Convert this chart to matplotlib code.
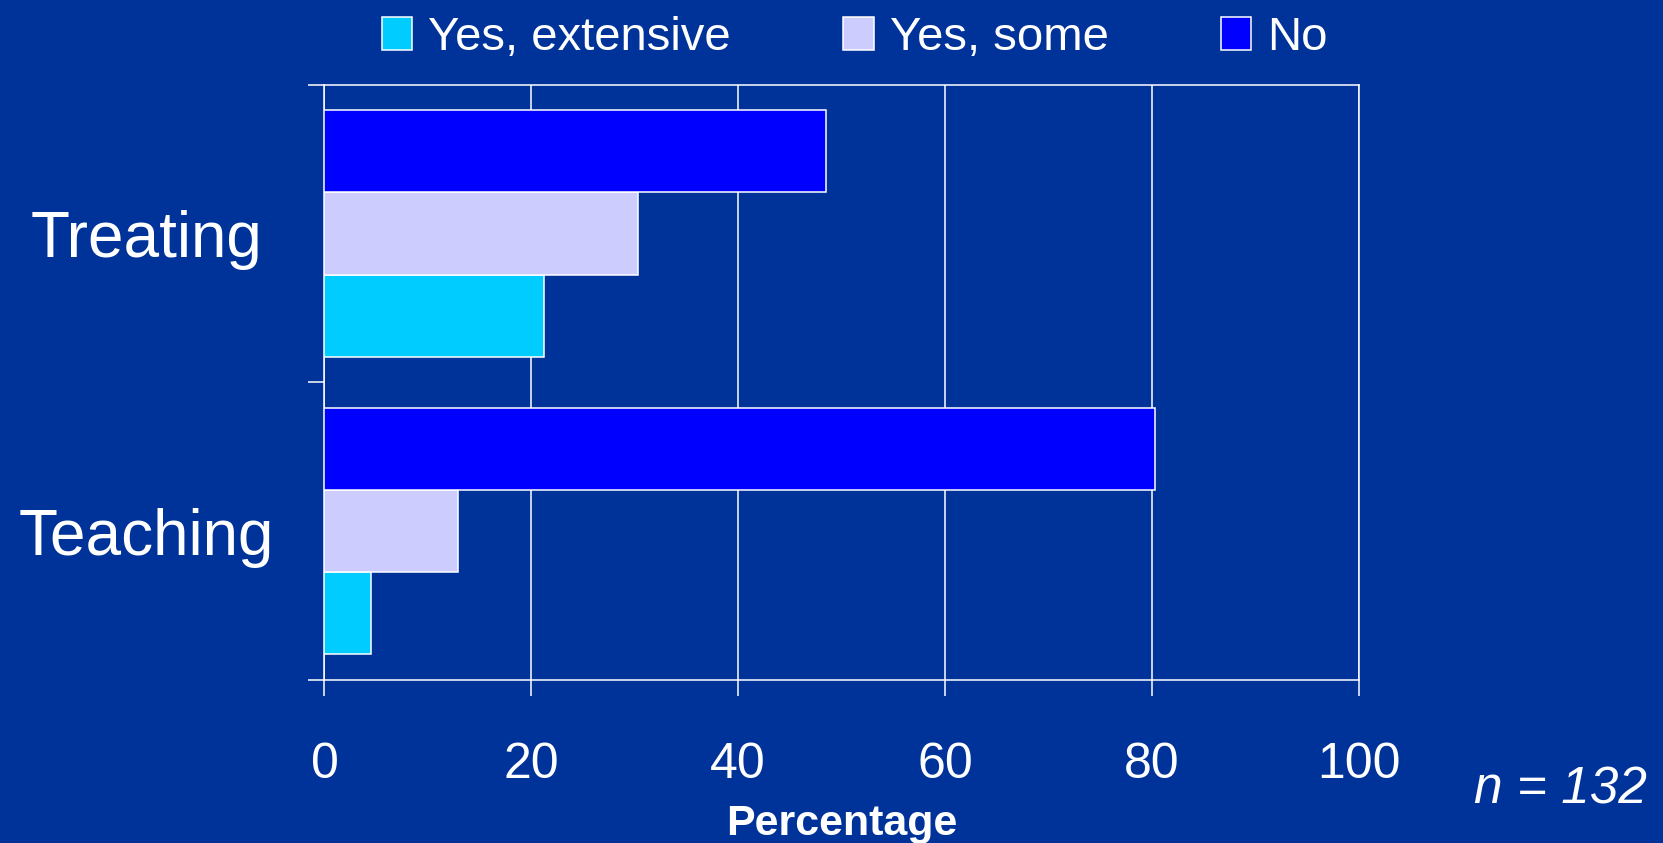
import numpy as np
import matplotlib
matplotlib.use('Agg')
import matplotlib.pyplot as plt
from matplotlib.patches import Patch

# data (percent of n = 132)
categories = ['Treating', 'Teaching']
series_names = ['Yes, extensive', 'Yes, some', 'No']
yes_extensive = [21.2, 4.5]
yes_some = [30.3, 12.9]
no_answer = [48.5, 80.3]
x_ticks = [0, 20, 40, 60, 80, 100]

bg = '#003399'
colors = ['#00CCFF', '#CCCCFF', '#0000FF']

plt.rcParams['font.family'] = ['Liberation Sans', 'DejaVu Sans']

fig = plt.figure(figsize=(16.63, 8.43), dpi=100, facecolor=bg)
ax = fig.add_axes([0.1951, 0.1936, 0.817 - 0.1951, 0.8994 - 0.1936])
ax.set_facecolor(bg)

y = np.arange(len(categories))
h = 0.276
series = [yes_extensive, yes_some, no_answer]
offsets = [h, 0, -h]
for vals, off, c in zip(series, offsets, colors):
    ax.barh(y + off, vals, height=h, color=c, edgecolor='white', linewidth=1.1, zorder=3)

ax.set_xlim(0, 100)
ax.set_ylim(-0.5, 1.5)
ax.invert_yaxis()

# x axis
ax.set_xticks(x_ticks)
ax.set_xticklabels([str(t) for t in x_ticks])
ax.tick_params(axis='x', colors='white', labelcolor='white', length=11.5, width=1.1,
               labelsize=36, pad=33)
ax.grid(axis='x', color='white', linewidth=1.1, zorder=0)
ax.set_axisbelow(True)
ax.set_xlabel('Percentage', color='white', fontsize=31, fontweight='bold', labelpad=12)

# y axis: tick marks at group boundaries, labels at group centres
ax.set_yticks([-0.5, 0.5, 1.5])
ax.set_yticklabels(['', '', ''])
ax.set_yticks(y, minor=True)
ax.set_yticklabels(categories, minor=True)
ax.tick_params(axis='y', which='major', colors='white', length=11.5, width=1.1)
ax.tick_params(axis='y', which='minor', length=0, labelsize=46, labelcolor='white', pad=128)
for lbl in ax.get_yticklabels(minor=True):
    lbl.set_horizontalalignment('center')

for s in ax.spines.values():
    s.set_color('white')
    s.set_linewidth(1.1)

handles = [Patch(facecolor=c, edgecolor='white', linewidth=1.1) for c in colors]
leg = fig.legend(handles, series_names, loc='center', bbox_to_anchor=(0.514, 0.955), ncol=3,
                 frameon=False, fontsize=34, handlelength=0.65, handleheight=0.68,
                 handletextpad=0.34, columnspacing=2.37, labelcolor='white')

fig.text(0.8864, 0.0625, 'n = 132', color='white', fontsize=37, style='italic',
         ha='left', va='center')

fig.savefig('out.png', dpi=100, facecolor=bg)
